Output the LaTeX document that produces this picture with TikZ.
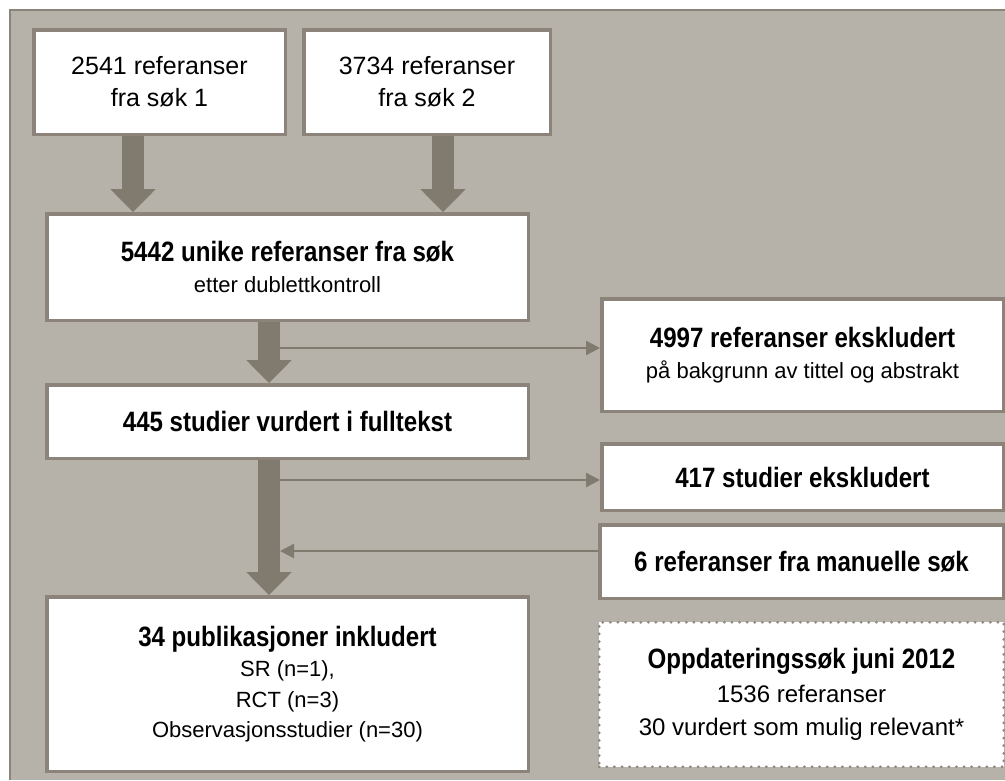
\documentclass[tikz,border=0pt]{standalone}
\usepackage{fontspec}
\setmainfont{Liberation Sans}[BoldFeatures={FakeStretch=0.86}]
\usetikzlibrary{arrows.meta}
\definecolor{panel}{HTML}{B6B1A9}
\definecolor{frame}{HTML}{8C847B}
\definecolor{arrowgray}{HTML}{817A6E}
\definecolor{arrowshadow}{HTML}{A09B93}
\definecolor{dotgray}{HTML}{8F887F}

\begin{document}
\begin{tikzpicture}[x=1pt,y=-1pt,
    box/.style={draw=frame, line width=3.5pt, fill=white, align=center, inner sep=0pt,
      font=\fontsize{22}{30.5}\selectfont},
    updbox/.style={box, draw=dotgray, line width=3pt, line cap=round,
      dash pattern=on 0pt off 7.6pt, font=\fontsize{24}{33.5}\selectfont},
    head/.style={font=\bfseries\fontsize{28}{31}\selectfont},
    bigarrow/.style={arrowgray, line width=22pt, -{Triangle[width=44pt,length=23pt]}},
    bigshadow/.style={bigarrow, arrowshadow, shift={(1.5,1.5)}},
    thinarrow/.style={arrowgray, line width=2.5pt, -{Triangle[width=14pt,length=14pt]}}]
  \useasboundingbox (0,0) rectangle (1005,780);
  % panel
  \fill[panel] (9,9) rectangle (1005,780);
  \draw[frame, line width=2pt] (10,780) -- (10,10) -- (1005,10);

  % boxes
  \node[box, minimum width=251.5pt, minimum height=104.5pt, font=\fontsize{25}{32}\selectfont]
    (sok1) at (159.5,82) {2541 referanser\\fra søk 1};
  \node[box, minimum width=246.5pt, minimum height=104.5pt, font=\fontsize{25}{32}\selectfont]
    (sok2) at (427,82) {3734 referanser\\fra søk 2};
  \node[box, minimum width=481.5pt, minimum height=106.5pt]
    (unike) at (287.5,267) {{\bfseries\fontsize{28}{31}\selectfont 5442 unike referanser fra søk}\\etter dublettkontroll};
  \node[box, minimum width=401.5pt, minimum height=112.5pt]
    (eks1) at (802.5,355) {{\bfseries\fontsize{28}{31}\selectfont 4997 referanser ekskludert}\\på bakgrunn av tittel og abstrakt};
  \node[box, head, minimum width=481.5pt, minimum height=73.5pt]
    (full) at (287.5,421.5) {445 studier vurdert i fulltekst};
  \node[box, head, minimum width=401.5pt, minimum height=66.5pt]
    (eks2) at (802.5,477) {417 studier ekskludert};
  \node[box, head, minimum width=403.5pt, minimum height=73.5pt]
    (manuell) at (801.5,561.5) {6 referanser fra manuelle søk};
  \node[updbox, minimum width=404.5pt, minimum height=144.5pt]
    (oppd) at (801.5,694.5) {{\bfseries\fontsize{28}{31}\selectfont Oppdateringssøk juni 2012}\\1536 referanser\\30 vurdert som mulig relevant*};
  \node[box, minimum width=481.5pt, minimum height=174.5pt]
    (inkl) at (287.5,684) {{\bfseries\fontsize{28}{31}\selectfont 34 publikasjoner inkludert}\\SR (n=1),\\RCT (n=3)\\Observasjonsstudier (n=30)};

  % thin side arrows
  \coordinate (ut1) at (269,348);
  \coordinate (ut2) at (269,480);
  \coordinate (inn) at (280,551);
  \draw[thinarrow] (ut1) -- (ut1 -| eks1.west);
  \draw[thinarrow] (ut2) -- (ut2 -| eks2.west);
  \draw[thinarrow] (inn -| manuell.west) -- (inn);

  % main flow arrows
  \foreach \from/\to/\dx in {sok1/unike/-26.5, sok2/unike/16, unike/full/-18.5, full/inkl/-18.5} {
    \draw[bigshadow] ([xshift=\dx pt]\from.south) -- ([xshift=\dx pt]\from.south |- \to.north);
    \draw[bigarrow] ([xshift=\dx pt]\from.south) -- ([xshift=\dx pt]\from.south |- \to.north);
  }
\end{tikzpicture}
\end{document}
